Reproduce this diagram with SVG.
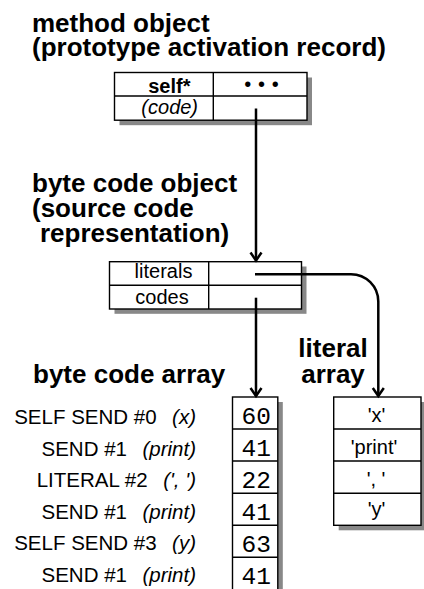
<svg xmlns="http://www.w3.org/2000/svg" width="424" height="589" viewBox="0 0 424 589">
<defs>
<style>
.h{font-family:"Liberation Sans",Arial,sans-serif;font-weight:bold;font-size:26px;fill:#000}
.t{font-family:"Liberation Sans",Arial,sans-serif;font-size:20px;fill:#000}
.l{font-size:20.5px}
.m{font-family:"Liberation Mono","Courier New",monospace;font-size:24.5px;fill:#000}
.i{font-style:italic}
.b{font-weight:bold}
.box{fill:#fff;stroke:#000;stroke-width:1.4}
.sh{fill:#888}
.ln{fill:none;stroke:#000;stroke-width:1.4}
.c{fill:none;stroke:#000;stroke-width:2.5}
</style>
<marker id="arr" markerUnits="userSpaceOnUse" markerWidth="14" markerHeight="16" viewBox="-11 -8 13 16" refX="0" refY="0" orient="auto">
<path d="M-8,-5.5 L0,0 L-8,5.5" fill="none" stroke="#000" stroke-width="2.5"/>
</marker>
</defs>
<rect width="424" height="589" fill="#fff"/>

<g id="titles">
<text class="h" x="32" y="32">method object</text>
<text class="h" x="32" y="55.5">(prototype activation record)</text>
<text class="h" x="32" y="192">byte code object</text>
<text class="h" x="32" y="217">(source code</text>
<text class="h" x="40" y="242">representation)</text>
<text class="h" x="33" y="383">byte code array</text>
<text class="h" x="333" y="357" text-anchor="middle">literal</text>
<text class="h" x="333" y="383" text-anchor="middle">array</text>
</g>

<g id="method-object">
<rect class="sh" x="119.5" y="77.5" width="192.5" height="47.7"/>
<rect class="box" x="114.5" y="72.5" width="192.5" height="47.7"/>
<line class="ln" x1="114.5" y1="96" x2="307" y2="96"/>
<line class="ln" x1="213.3" y1="72.5" x2="213.3" y2="120.2"/>
<text class="t b" x="169.3" y="93.3" text-anchor="middle">self*</text>
<text class="t" x="247.7 254.6 261.5 268.4 275.2" y="91" font-size="16" text-anchor="middle">• • •</text>
<text class="t i" x="169.7" y="113.8" text-anchor="middle" font-size="21">(code)</text>
</g>

<g id="bytecode-object">
<rect class="sh" x="114.5" y="266.5" width="192" height="47.3"/>
<rect class="box" x="109.5" y="261.7" width="192" height="47.3"/>
<line class="ln" x1="109.5" y1="285.3" x2="301.5" y2="285.3"/>
<line class="ln" x1="208.7" y1="261.7" x2="208.7" y2="309"/>
<text class="t" x="163.5" y="278.3" text-anchor="middle">literals</text>
<text class="t" x="162" y="304.3" text-anchor="middle">codes</text>
</g>

<g id="bytecode-array">
<rect class="sh" x="237.5" y="402" width="45.3" height="200"/>
<rect class="box" x="232.5" y="397" width="45.3" height="200"/>
<line class="ln" x1="232.5" y1="429" x2="277.8" y2="429"/>
<line class="ln" x1="232.5" y1="461" x2="277.8" y2="461"/>
<line class="ln" x1="232.5" y1="493.2" x2="277.8" y2="493.2"/>
<line class="ln" x1="232.5" y1="525.3" x2="277.8" y2="525.3"/>
<line class="ln" x1="232.5" y1="557.3" x2="277.8" y2="557.3"/>
<text class="m" x="256.3" y="424.3" text-anchor="middle">60</text>
<text class="m" x="256.3" y="456.3" text-anchor="middle">41</text>
<text class="m" x="256.3" y="488.3" text-anchor="middle">22</text>
<text class="m" x="256.3" y="520.3" text-anchor="middle">41</text>
<text class="m" x="256.3" y="552.3" text-anchor="middle">63</text>
<text class="m" x="256.3" y="584" text-anchor="middle">41</text>
</g>

<g id="literal-array">
<rect class="sh" x="338.7" y="402" width="87.3" height="128.3"/>
<rect class="box" x="333.7" y="397" width="87.3" height="128.3"/>
<line class="ln" x1="333.7" y1="429" x2="421" y2="429"/>
<line class="ln" x1="333.7" y1="461" x2="421" y2="461"/>
<line class="ln" x1="333.7" y1="493.2" x2="421" y2="493.2"/>
<text class="t" x="376.5" y="421.7" text-anchor="middle">'x'</text>
<text class="t" x="374" y="453.5" text-anchor="middle">'print'</text>
<text class="t" x="376" y="485.7" text-anchor="middle">', '</text>
<text class="t" x="376.5" y="516" text-anchor="middle">'y'</text>
</g>

<g id="instructions">
<text class="t l" x="196" y="424" text-anchor="end">SELF SEND #0<tspan class="i" dx="15.5">(x)</tspan></text>
<text class="t l" x="196" y="455.6" text-anchor="end">SEND #1<tspan class="i" dx="15.5">(print)</tspan></text>
<text class="t l" x="196" y="487.2" text-anchor="end">LITERAL #2<tspan class="i" dx="15.5">(', ')</tspan></text>
<text class="t l" x="196" y="518.8" text-anchor="end">SEND #1<tspan class="i" dx="15.5">(print)</tspan></text>
<text class="t l" x="196" y="550.4" text-anchor="end">SELF SEND #3<tspan class="i" dx="15.5">(y)</tspan></text>
<text class="t l" x="196" y="582" text-anchor="end">SEND #1<tspan class="i" dx="15.5">(print)</tspan></text>
</g>

<g id="connectors">
<path class="c" d="M256,108.5 V260.5" marker-end="url(#arr)"/>
<path class="c" d="M255,274.2 H351 A27.3,27.3 0 0 1 378.3,301.5 V396" marker-end="url(#arr)"/>
<path class="c" d="M256,297.7 V396" marker-end="url(#arr)"/>
</g>
</svg>
